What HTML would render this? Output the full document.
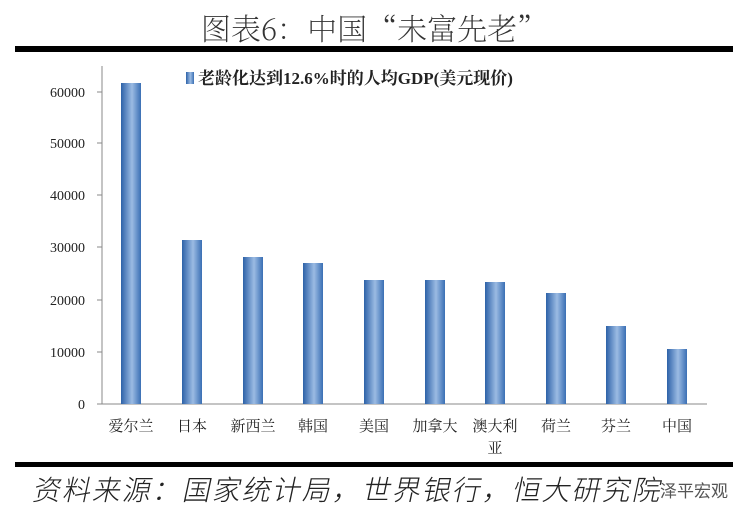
<!DOCTYPE html><html><head><meta charset="utf-8"><style>
body{margin:0;background:#fff;width:748px;height:522px;overflow:hidden}
</style></head><body>
<svg width="748" height="522" xmlns="http://www.w3.org/2000/svg">
<defs><linearGradient id="g" x1="0" x2="1" y1="0" y2="0">
<stop offset="0" stop-color="#2d62a8"/><stop offset="0.55" stop-color="#9bbbe3"/><stop offset="1" stop-color="#3a6fb4"/></linearGradient></defs>
<text x="374" y="40" text-anchor="middle" font-family="'Noto Serif CJK SC','Liberation Serif',serif" font-size="30" font-weight="200" fill="#333">图表6：中国“未富先老”</text>
<rect x="15" y="46" width="718" height="6" fill="#000"/>
<rect x="15" y="462" width="718" height="5" fill="#000"/>
<g font-family="'Liberation Serif','Noto Serif CJK SC',serif" font-size="14" fill="#222" text-anchor="end">
<text x="85" y="409">0</text><text x="85" y="357">10000</text><text x="85" y="305">20000</text><text x="85" y="252">30000</text><text x="85" y="200">40000</text><text x="85" y="148">50000</text><text x="85" y="97">60000</text>
</g>
<g stroke="#888" stroke-width="1">
<line x1="102" y1="66" x2="102" y2="404"/>
<line x1="97" y1="404" x2="707" y2="404"/>
<line x1="97" y1="352" x2="102" y2="352"/><line x1="97" y1="300" x2="102" y2="300"/><line x1="97" y1="247" x2="102" y2="247"/><line x1="97" y1="195" x2="102" y2="195"/><line x1="97" y1="143" x2="102" y2="143"/><line x1="97" y1="92" x2="102" y2="92"/>
</g>
<g fill="url(#g)">
<rect x="121" y="83" width="20" height="321"/>
<rect x="182" y="240" width="20" height="164"/>
<rect x="243" y="257" width="20" height="147"/>
<rect x="303" y="263" width="20" height="141"/>
<rect x="364" y="280" width="20" height="124"/>
<rect x="425" y="280" width="20" height="124"/>
<rect x="485" y="282" width="20" height="122"/>
<rect x="546" y="293" width="20" height="111"/>
<rect x="606" y="326" width="20" height="78"/>
<rect x="667" y="349" width="20" height="55"/>
</g>
<rect x="186" y="72" width="8" height="12" fill="url(#g)"/>
<text x="198" y="84" font-family="'Liberation Serif','Noto Serif CJK SC',serif" font-size="17" font-weight="bold" fill="#222">老龄化达到12.6%时的人均GDP(美元现价)</text>
<g font-family="'Noto Serif CJK SC',serif" font-size="15" fill="#222" text-anchor="middle">
<text x="131" y="431">爱尔兰</text><text x="192" y="431">日本</text><text x="253" y="431">新西兰</text><text x="313" y="431">韩国</text><text x="374" y="431">美国</text><text x="435" y="431">加拿大</text><text x="495" y="431">澳大利</text><text x="495" y="453">亚</text><text x="556" y="431">荷兰</text><text x="616" y="431">芬兰</text><text x="677" y="431">中国</text>
</g>
<text x="138" y="500" font-family="'Noto Sans CJK SC',sans-serif" font-size="28" font-weight="300" letter-spacing="2" fill="#222" transform="skewX(-12)">资料来源：国家统计局，世界银行，恒大研究院</text>
<text x="660" y="497" font-family="'Noto Sans CJK SC',sans-serif" font-size="17" fill="#555">泽平宏观</text>
</svg>
</body></html>
